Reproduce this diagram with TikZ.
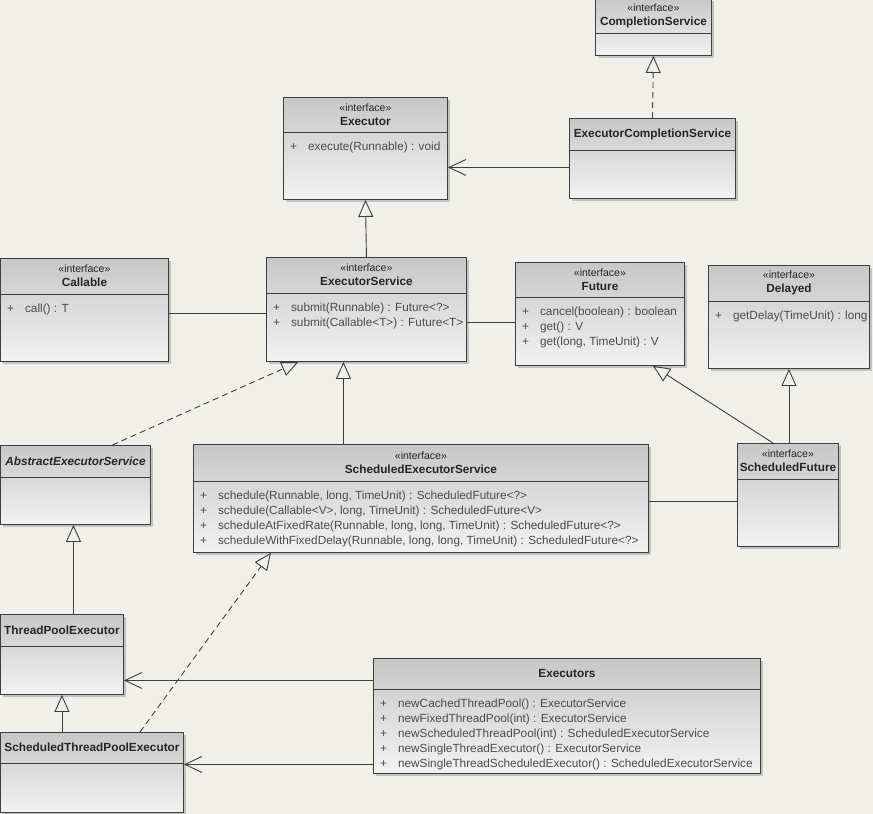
\documentclass[tikz,border=0pt]{standalone}
\usepackage{fontspec}
\setmainfont{Liberation Sans}
\usetikzlibrary{arrows.meta, shadows}
\definecolor{paper}{RGB}{240,239,233}
\definecolor{ink}{RGB}{62,62,62}

\begin{document}
\begin{tikzpicture}[x=1pt, y=-1pt,
		umlbox/.style={draw=ink, line width=0.9pt, anchor=north west, inner sep=0pt, top color=black!22, bottom color=black!5, drop shadow={shadow xshift=2.5pt, shadow yshift=-2.5pt, fill=black!45, opacity=0.45}},
		edge/.style={draw=ink, line width=0.9pt},
		head/.style={align=center, inner sep=0pt, text=black!85, font=\fontsize{11.8}{14}\selectfont\bfseries},
		meth/.style={anchor=north west, inner sep=0pt, text=black!70, font=\fontsize{11.8}{15}\selectfont},
		gen/.style={edge, -{Triangle[open, length=17pt, width=15pt]}},
		real/.style={gen, dash pattern=on 6pt off 4pt},
		dep/.style={edge, -{Straight Barb[length=17pt, width=16pt]}}]
		\useasboundingbox (0,0) rectangle (873,814);
		\fill[paper] (0,0) rectangle (873,814);
		\def\stereo{{\mdseries\fontsize{10.5}{14}\selectfont «interface»}\\}
		% name, x, y, width, height, header height, title, operations
		\def\umlclass#1#2#3#4#5#6#7#8{
			\node[umlbox, minimum width=#4pt, minimum height=#5pt] (#1) at (#2,#3) {};
			\draw[edge] ([yshift=-#6pt]#1.north west) -- ([yshift=-#6pt]#1.north east);
			\node[head] (#1-head) at ([yshift=-#6pt/2]#1.north) {#7};
			\node[meth] (#1-ops) at ([xshift=7pt, yshift=-#6pt-8pt]#1.north west) {\begin{tabular}{@{}l@{\hspace{11pt}}l@{}}#8\end{tabular}};
		}
		\umlclass{cs}{595}{-2}{116}{57}{35}{\stereo CompletionService}{}
		\umlclass{exec}{283}{97}{164}{102}{35}{\stereo Executor}{+ & execute(Runnable) : void}
		\umlclass{ecs}{569}{118}{166}{80}{32}{ExecutorCompletionService}{}
		\umlclass{call}{0}{258}{168}{103}{36}{\stereo Callable}{+ & call() : T}
		\umlclass{es}{266}{257}{200}{104}{36}{\stereo ExecutorService}{+ & submit(Runnable) : Future<?>\\ + & submit(Callable<T>) : Future<T>}
		\umlclass{fut}{515}{262}{169}{103}{35}{\stereo Future}{+ & cancel(boolean) : boolean\\ + & get() : V\\ + & get(long, TimeUnit) : V}
		\umlclass{del}{708}{265}{161}{103}{36}{\stereo Delayed}{+ & getDelay(TimeUnit) : long}
		\umlclass{aes}{0}{445}{150}{79}{32}{\itshape AbstractExecutorService}{}
		\umlclass{ses}{193}{444}{455}{108}{37}{\stereo ScheduledExecutorService}{+ & schedule(Runnable, long, TimeUnit) : ScheduledFuture<?>\\ + & schedule(Callable<V>, long, TimeUnit) : ScheduledFuture<V>\\ + & scheduleAtFixedRate(Runnable, long, long, TimeUnit) : ScheduledFuture<?>\\ + & scheduleWithFixedDelay(Runnable, long, long, TimeUnit) : ScheduledFuture<?>}
		\umlclass{sf}{737}{443}{101}{103}{36}{\stereo ScheduledFuture}{}
		\umlclass{tpe}{0}{614}{123}{80}{32}{ThreadPoolExecutor}{}
		\umlclass{stpe}{0}{732}{183}{80}{31}{ScheduledThreadPoolExecutor}{}
		\umlclass{exs}{373}{658}{387}{115}{31}{Executors}{+ & newCachedThreadPool() : ExecutorService\\ + & newFixedThreadPool(int) : ExecutorService\\ + & newScheduledThreadPool(int) : ScheduledExecutorService\\ + & newSingleThreadExecutor() : ExecutorService\\ + & newSingleThreadScheduledExecutor() : ScheduledExecutorService}
		% connectors
		\draw[real] (ecs.north) -- (cs.south);
		\draw[dep] ([yshift=-9pt]ecs.west) -- ([yshift=-9pt]ecs.west -| exec.east);
		\draw[gen] (es.north) -- (exec.south);
		\draw[edge] ([yshift=-3.5pt]call.east) -- ([yshift=-3.5pt]call.east -| es.west);
		\draw[edge] ([yshift=-13pt]es.east) -- ([yshift=-13pt]es.east -| fut.west);
		\draw[real] ([xshift=37pt]aes.north) -- ([xshift=-68pt]es.south);
		\draw[gen] ([xshift=-23pt]es.south |- ses.north) -- ([xshift=-23pt]es.south);
		\draw[gen] ([xshift=-15pt]sf.north) -- ([xshift=53pt]fut.south);
		\draw[gen] (del.south |- sf.north) -- (del.south);
		\draw[edge] ([yshift=-3pt]ses.east) -- ([yshift=-3pt]ses.east -| sf.west);
		\draw[gen] ([xshift=-2pt]aes.south |- tpe.north) -- ([xshift=-2pt]aes.south);
		\draw[gen] (tpe.south |- stpe.north) -- (tpe.south);
		\draw[real] ([xshift=48pt]stpe.north) -- ([xshift=-150pt]ses.south);
		\draw[dep] ([yshift=-26pt]tpe.east -| exs.west) -- ([yshift=-26pt]tpe.east);
		\draw[dep] ([yshift=8pt]stpe.east -| exs.west) -- ([yshift=8pt]stpe.east);
	\end{tikzpicture}
\end{document}
